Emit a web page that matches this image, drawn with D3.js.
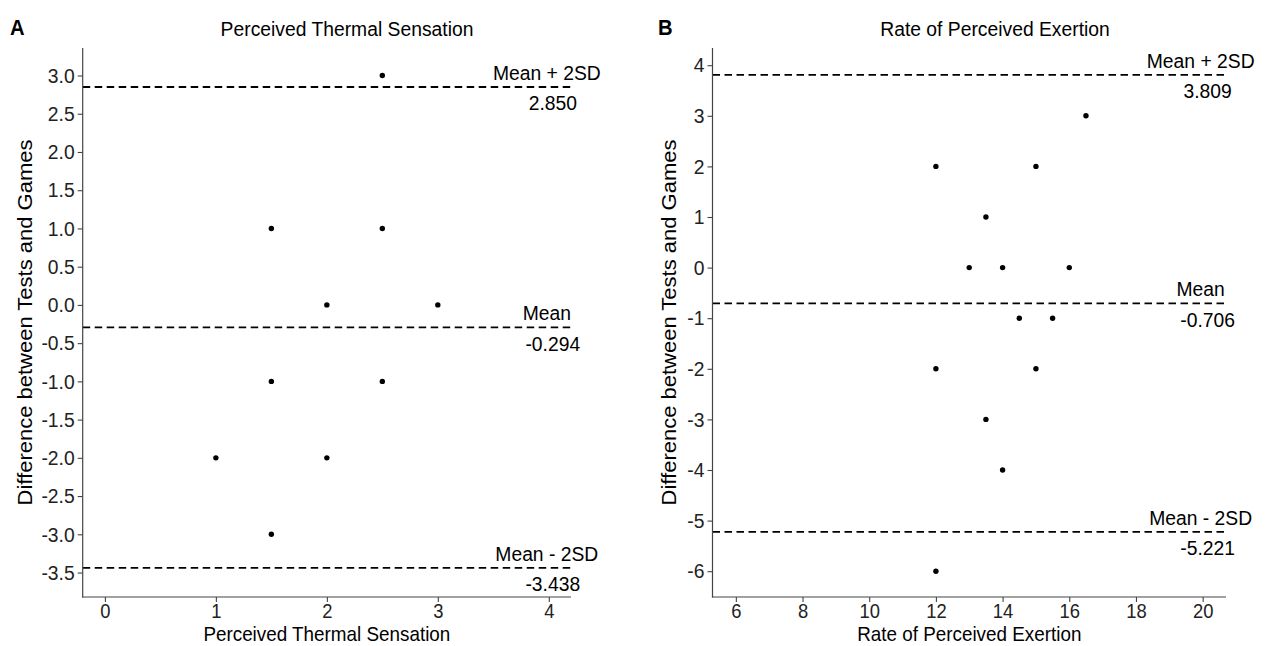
<!DOCTYPE html>
<html><head><meta charset="utf-8">
<script src="https://cdn.jsdelivr.net/npm/d3@7"></script>
<style>body{margin:0;background:#fff}svg{display:block}text{font-family:"Liberation Sans",Arial,sans-serif}</style>
</head><body>
<svg id="c" width="1273" height="646"></svg>
<script>
// Panel A data
const ptsA_x = [2.5, 1.5, 2.5, 2, 3, 1.5, 2.5, 1, 2, 1.5];
const ptsA_y = [3, 1, 1, 0, 0, -1, -1, -2, -2, -3];
const linesA = [2.850, -0.294, -3.438];
const labelsA = ["Mean + 2SD", "Mean", "Mean - 2SD"];
const valueTextA = ["2.850", "-0.294", "-3.438"];
const yTicksA = [3.0, 2.5, 2.0, 1.5, 1.0, 0.5, 0.0, -0.5, -1.0, -1.5, -2.0, -2.5, -3.0, -3.5];
const xTicksA = [0, 1, 2, 3, 4];
// Panel B data
const ptsB_x = [16.5, 12, 15, 13.5, 13, 14, 16, 14.5, 15.5, 12, 15, 13.5, 14, 12];
const ptsB_y = [3, 2, 2, 1, 0, 0, 0, -1, -1, -2, -2, -3, -4, -6];
const linesB = [3.809, -0.706, -5.221];
const labelsB = ["Mean + 2SD", "Mean", "Mean - 2SD"];
const valueTextB = ["3.809", "-0.706", "-5.221"];
const yTicksB = [4, 3, 2, 1, 0, -1, -2, -3, -4, -5, -6];
const xTicksB = [6, 8, 10, 12, 14, 16, 18, 20];

const SX = 0.92; // horizontal text compression seen in the reference
const svg = d3.select("#c");
const fmt1 = v => (v < 0 ? "-" : "") + d3.format(".1f")(Math.abs(v));
const fmt0 = v => (v < 0 ? "-" : "") + Math.abs(v);

function txt(parent, x, y, size, anchor, str, weight) {
  return parent.append("text")
    .attr("transform", `translate(${x},${y}) scale(${SX},1)`)
    .attr("text-anchor", anchor).attr("font-size", size)
    .attr("font-weight", weight || "normal").attr("fill", "#000").text(str);
}

function squeeze(a, size) {
  a.selectAll(".tick text").attr("font-size", size).attr("fill", "#222")
    .attr("font-family", '"Liberation Sans",Arial,sans-serif')
    .each(function () {
      const t = d3.select(this);
      const tx = +t.attr("x") || 0, ty = +t.attr("y") || 0;
      t.attr("x", 0).attr("y", 0).attr("transform", `translate(${tx},${ty}) scale(${SX},1)`);
    });
}

function panel(o) {
  const g = svg.append("g");
  const x = d3.scaleLinear().domain(o.xDom).range([o.left, o.right]);
  const y = d3.scaleLinear().domain(o.yDom).range([o.bottom, o.top]);

  // hlines + annotations
  o.lines.forEach((v, i) => {
    g.append("line").attr("x1", o.left).attr("x2", o.right)
      .attr("y1", y(v)).attr("y2", y(v))
      .attr("stroke", "#000").attr("stroke-width", 1.8).attr("stroke-dasharray", "7.5,4.5");
    txt(g, x(o.labelX) - 2, y(v) - 7, 21, "middle", o.labels[i]);
    txt(g, x(o.labelX) + o.valOff, y(v) + 23.5, 21, "middle", o.values[i]);
  });

  // points
  g.selectAll("circle.p").data(o.px.map((d, i) => [d, o.py[i]])).join("circle")
    .attr("cx", d => x(d[0])).attr("cy", d => y(d[1])).attr("r", 2.7).attr("fill", "#000");

  // axes
  const ax = g.append("g").attr("transform", `translate(0,${o.bottom})`)
    .call(d3.axisBottom(x).tickValues(o.xTicks).tickFormat(fmt0).tickSizeOuter(0).tickSizeInner(5).tickPadding(2));
  const ay = g.append("g").attr("transform", `translate(${o.left},0)`)
    .call(d3.axisLeft(y).tickValues(o.yTicks).tickFormat(o.yFmt).tickSizeOuter(0).tickSizeInner(5).tickPadding(3));
  [ax, ay].forEach(a => {
    a.select(".domain").attr("stroke", "#444").attr("stroke-width", 1.2);
    a.selectAll(".tick line").attr("stroke", "#444").attr("stroke-width", 1.1);
  });
  squeeze(ax, 20);
  squeeze(ay, 21);
  ax.select(".domain").attr("d", `M${o.left - 0.6},0H${o.right}`);
  ay.select(".domain").attr("d", `M0,${o.top}V${o.bottom + 0.6}`);

  // titles
  txt(svg, o.titleX, 36, 21, "middle", o.title);
  txt(svg, o.letterX, 35, 22, "start", o.letter, "bold");
  txt(svg, (o.left + o.right) / 2, 641, 20.5, "middle", o.xTitle);
  svg.append("text").attr("transform", `translate(${o.yTitleX},${(o.top + o.bottom) / 2}) rotate(-90) scale(1,${SX})`)
    .attr("text-anchor", "middle").attr("font-size", 22).attr("fill", "#000").text(o.yTitle);
}

panel({
  left: 82.7, right: 571, top: 48, bottom: 597,
  xDom: [-0.2, 4.2], yDom: [-3.82, 3.36],
  px: ptsA_x, py: ptsA_y, lines: linesA, labels: labelsA, values: valueTextA,
  xTicks: xTicksA, yTicks: yTicksA, yFmt: fmt1, labelX: 4, valOff: 4,
  title: "Perceived Thermal Sensation", titleX: 347, letter: "A", letterX: 10,
  xTitle: "Perceived Thermal Sensation", yTitle: "Difference between Tests and Games", yTitleX: 32
});
panel({
  left: 712.5, right: 1226, top: 48, bottom: 597,
  xDom: [5.3, 20.7], yDom: [-6.51, 4.34],
  px: ptsB_x, py: ptsB_y, lines: linesB, labels: labelsB, values: valueTextB,
  xTicks: xTicksB, yTicks: yTicksB, yFmt: fmt0, labelX: 20, valOff: 5,
  title: "Rate of Perceived Exertion", titleX: 995, letter: "B", letterX: 658,
  xTitle: "Rate of Perceived Exertion", yTitle: "Difference between Tests and Games", yTitleX: 676
});
</script>
</body></html>
